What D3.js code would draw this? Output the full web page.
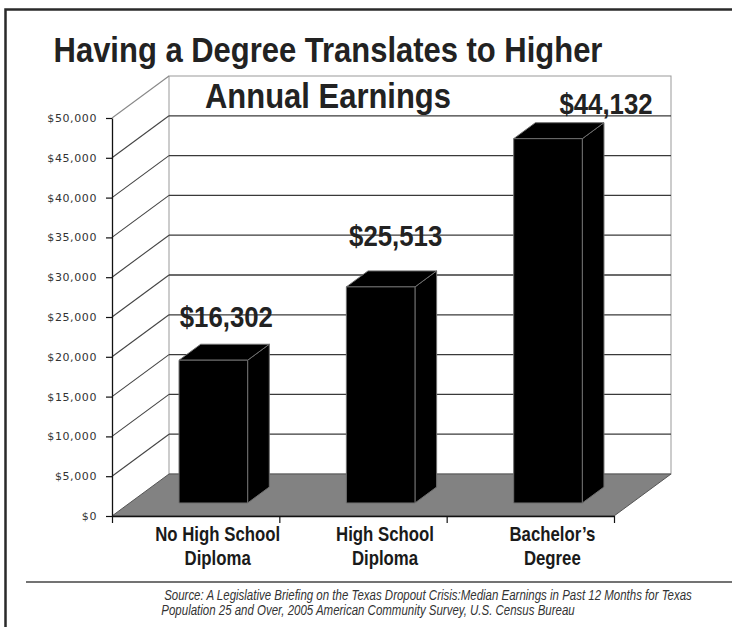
<!DOCTYPE html>
<html lang="en">
<head>
	<meta charset="UTF-8">
	<title>degree earnings</title>
	<style>
		body { margin: 0; background: #fff; }
		svg { display: block; }
	</style>
</head>
<body>
	<svg id="chart" width="732" height="627"></svg>
<script src="https://cdnjs.cloudflare.com/ajax/libs/d3/7.8.5/d3.min.js"></script>
<script>
	// data
	const categories = ["No High School Diploma", "High School Diploma", "Bachelor’s Degree"];
	const categoryLines = [["No High School", "Diploma"], ["High School", "Diploma"], ["Bachelor’s", "Degree"]];
	const earnings = [16302, 25513, 44132];
	const yTicks = [0, 5000, 10000, 15000, 20000, 25000, 30000, 35000, 40000, 45000, 50000];
	const titleLines = ["Having a Degree Translates to Higher", "Annual Earnings"];
	const sourceLines = [
		"Source: A Legislative Briefing on the Texas Dropout Crisis:Median Earnings in Past 12 Months for Texas",
		"Population 25 and Over, 2005 American Community Survey, U.S. Census Bureau"
	];

	let svg = d3.select("#chart");

	// oblique 3d: z=0 is the front edge of the floor, z=1 the back wall
	const depth = { dx: 57, dy: 42 };
	const barFront = 0.31, barBack = 0.69;

	let y = d3.scaleLinear()
		.domain([0, 50000])
		.range([516, 118]);
	let x = d3.scaleBand()
		.domain(categories)
		.range([112, 614]);
	let edge = d3.scaleLinear()
		.domain([0, categories.length])
		.range(x.range());

	function proj(px, py, z) {
		return [px + z * depth.dx, py - z * depth.dy];
	}
	// the slide uses a condensed face, so squeeze Arial sideways
	function squeeze(sel, cx, cy, k) {
		sel.attr("x", 0).attr("y", 0)
			.attr("transform", `translate(${cx},${cy}) scale(${k},1)`);
	}
	let fmt = d3.format("$,.0f");
	const sans = "'Liberation Sans', Arial, sans-serif";

	// frame round the slide
	svg.append("path")
		.attr("d", "M5.5,627V9.5H732")
		.attr("fill", "none")
		.attr("stroke", "#2a2a2a")
		.attr("stroke-width", 2.5);

	// back wall
	let [wx0, wy0] = proj(x.range()[0], y(50000), 1);
	let [wx1, wy1] = proj(x.range()[1], y(0), 1);
	svg.append("rect")
		.attr("x", wx0).attr("y", wy0)
		.attr("width", wx1 - wx0).attr("height", wy1 - wy0)
		.attr("fill", "#fff")
		.attr("stroke", "#999")
		.attr("stroke-width", 1);

	let grid = yTicks.filter(d => d > 0 && d < 50000);
	svg.append("g").selectAll("line")
		.data(grid)
		.join("line")
		.attr("x1", wx0).attr("x2", wx1)
		.attr("y1", d => proj(0, y(d), 1)[1])
		.attr("y2", d => proj(0, y(d), 1)[1])
		.attr("stroke", "#3a3a3a")
		.attr("stroke-width", 1.3);

	// side wall diagonals
	svg.append("g").selectAll("line")
		.data(yTicks.filter(d => d > 0))
		.join("line")
		.attr("x1", x.range()[0]).attr("y1", d => y(d))
		.attr("x2", d => proj(x.range()[0], y(d), 1)[0])
		.attr("y2", d => proj(x.range()[0], y(d), 1)[1])
		.attr("stroke", d => d == 50000 ? "#888" : "#444")
		.attr("stroke-width", 1.1);

	// floor
	let floor = [
		proj(x.range()[0], y(0), 0), proj(x.range()[0], y(0), 1),
		proj(x.range()[1], y(0), 1), proj(x.range()[1], y(0), 0)
	];
	svg.append("polygon")
		.attr("points", floor.map(p => p.join(",")).join(" "))
		.attr("fill", "#828282")
		.attr("stroke", "#555")
		.attr("stroke-width", 1);

	// bars, tops read against the back wall gridlines like the original
	let barW = x.bandwidth() * 0.41;
	let bdx = (barBack - barFront) * depth.dx;
	let bdy = (barBack - barFront) * depth.dy;
	let bars = categories.map((c, i) => {
		let x0 = x(c) + (x.bandwidth() - barW) / 2 + barFront * depth.dx;
		let x1 = x0 + barW;
		let yb = y(0) - barFront * depth.dy;
		let yt = y(earnings[i]) - depth.dy + bdy;
		return { x0, x1, yb, yt, v: earnings[i] };
	});
	let barG = svg.append("g").selectAll("g")
		.data(bars)
		.join("g")
		.attr("fill", "#000")
		.attr("stroke", "#6e6e6e")
		.attr("stroke-width", 1)
		.attr("stroke-linejoin", "round");
	barG.append("polygon")
		.attr("points", d => [[d.x1, d.yt], [d.x1 + bdx, d.yt - bdy], [d.x1 + bdx, d.yb - bdy], [d.x1, d.yb]].join(" "));
	barG.append("polygon")
		.attr("points", d => [[d.x0, d.yt], [d.x0 + bdx, d.yt - bdy], [d.x1 + bdx, d.yt - bdy], [d.x1, d.yt]].join(" "));
	barG.append("rect")
		.attr("x", d => d.x0).attr("y", d => d.yt)
		.attr("width", barW).attr("height", d => d.yb - d.yt);

	// y axis
	let yaxis = d3.axisLeft(y)
		.tickValues(yTicks)
		.tickSize(6)
		.tickSizeOuter(0)
		.tickFormat(fmt);
	let yg = svg.append("g")
		.attr("transform", `translate(${x.range()[0]},0)`)
		.call(yaxis);
	yg.select(".domain").attr("stroke", "#111").attr("stroke-width", 1.3);
	yg.selectAll(".tick line").attr("stroke", "#111").attr("stroke-width", 1.2);
	yg.selectAll(".tick text")
		.attr("x", -15)
		.attr("fill", "#333")
		.style("font-family", "'DejaVu Sans', Verdana, sans-serif")
		.style("font-size", "11px")
		.style("letter-spacing", "0.6px");

	// x axis, ticks between the categories
	let xaxis = d3.axisBottom(edge)
		.tickValues(d3.range(categories.length + 1))
		.tickSize(7)
		.tickSizeOuter(0)
		.tickFormat("");
	let xg = svg.append("g")
		.attr("transform", `translate(0,${y(0)})`)
		.call(xaxis);
	xg.select(".domain").attr("stroke", "#111").attr("stroke-width", 1.3);
	xg.selectAll(".tick line").attr("stroke", "#111").attr("stroke-width", 1.2);

	// category labels
	categoryLines.forEach((lines, i) => {
		let cx = x(categories[i]) + x.bandwidth() / 2 + 22;
		lines.forEach((t, j) => {
			svg.append("text")
				.text(t)
				.attr("text-anchor", "middle")
				.attr("fill", "#1a1a1a")
				.style("font-family", sans)
				.style("font-weight", "bold")
				.style("font-size", "20px")
				.call(squeeze, cx, 541 + j * 24, 0.84);
		});
	});

	// value labels, nudged like the hand placed boxes
	const labelNudge = [[13, -33], [15, -41], [58, -25]];
	bars.forEach((b, i) => {
		svg.append("text")
			.text(fmt(b.v))
			.attr("text-anchor", "middle")
			.attr("fill", "#222")
			.style("font-family", sans)
			.style("font-weight", "bold")
			.style("font-size", "30px")
			.call(squeeze, (b.x0 + b.x1) / 2 + labelNudge[i][0], b.yt + labelNudge[i][1], 0.86);
	});

	// title
	titleLines.forEach((t, i) => {
		svg.append("text")
			.text(t)
			.attr("text-anchor", "middle")
			.attr("fill", "#222")
			.style("font-family", sans)
			.style("font-weight", "bold")
			.style("font-size", "35px")
			.call(squeeze, 328, 62 + i * 46, 0.885);
	});

	// source note
	svg.append("line")
		.attr("x1", 26).attr("x2", 732)
		.attr("y1", 582).attr("y2", 582)
		.attr("stroke", "#444")
		.attr("stroke-width", 1.3);
	sourceLines.forEach((t, i) => {
		svg.append("text")
			.text(t)
			.attr("text-anchor", "middle")
			.attr("fill", "#333")
			.style("font-family", sans)
			.style("font-style", "italic")
			.style("font-size", "14px")
			.call(squeeze, [428, 368][i], 600 + i * 15, 0.82);
	});
</script>
</body>
</html>
